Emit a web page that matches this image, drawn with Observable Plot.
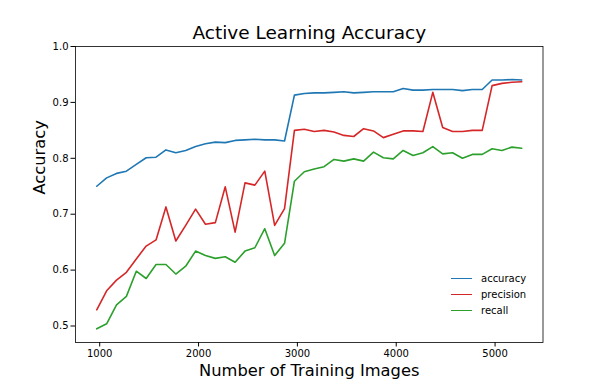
<!DOCTYPE html>
<html>
<head>
<meta charset="utf-8">
<script src="https://cdn.jsdelivr.net/npm/d3@7"></script>
<script src="https://cdn.jsdelivr.net/npm/@observablehq/plot@0.6"></script>
<style>
  html, body { margin: 0; padding: 0; background: #fff; }
  #wrap { position: relative; width: 602px; height: 384px; font-family: "DejaVu Sans", sans-serif; }
  #legend { position: absolute; left: 451px; top: 270.5px; font-size: 10px; color: #000; }
  .row { position: relative; height: 16px; }
  .sw { position: absolute; left: 0; top: 7px; width: 21px; height: 1.6px; }
  .lab { position: absolute; left: 30px; top: 0px; line-height: 15px; white-space: nowrap; }
</style>
</head>
<body>
<div id="wrap"><div id="legend"></div></div>
<script>
const titleText = "Active Learning Accuracy";
const xLabel = "Number of Training Images";
const yLabel = "Accuracy";
const seriesNames = ["accuracy", "precision", "recall"];
const seriesColors = ["#1f77b4", "#d62728", "#2ca02c"];
const xTicks = [1000, 2000, 3000, 4000, 5000];
const yTicks = [0.5, 0.6, 0.7, 0.8, 0.9, 1.0];

const images = [970, 1070, 1170, 1270, 1370, 1470, 1570, 1670, 1770, 1870,
  1970, 2070, 2170, 2270, 2370, 2470, 2570, 2670, 2770, 2870,
  2970, 3070, 3170, 3270, 3370, 3470, 3570, 3670, 3770, 3870,
  3970, 4070, 4170, 4270, 4370, 4470, 4570, 4670, 4770, 4870,
  4970, 5070, 5170, 5270];

const accuracy = [0.750,0.765,0.773,0.777,0.789,0.801,0.802,0.815,0.810,0.814,
  0.821,0.826,0.829,0.828,0.832,0.833,0.834,0.833,0.833,0.831,
  0.913,0.916,0.917,0.917,0.918,0.919,0.917,0.918,0.919,0.919,
  0.919,0.925,0.922,0.922,0.923,0.923,0.923,0.921,0.923,0.923,
  0.940,0.940,0.941,0.940];

const precision = [0.529,0.563,0.582,0.596,0.620,0.643,0.654,0.713,0.652,0.680,
  0.709,0.682,0.685,0.749,0.668,0.756,0.752,0.777,0.680,0.710,
  0.850,0.852,0.848,0.850,0.847,0.841,0.839,0.853,0.849,0.837,
  0.843,0.849,0.849,0.848,0.918,0.855,0.848,0.848,0.850,0.850,
  0.930,0.934,0.936,0.937];

const recall = [0.495,0.504,0.538,0.553,0.598,0.585,0.610,0.610,0.593,0.607,
  0.634,0.626,0.621,0.624,0.614,0.634,0.640,0.674,0.626,0.648,
  0.759,0.776,0.781,0.785,0.798,0.795,0.799,0.795,0.811,0.801,
  0.799,0.814,0.805,0.810,0.821,0.808,0.810,0.800,0.807,0.807,
  0.817,0.814,0.820,0.818];

const seriesValues = [accuracy, precision, recall];
const data = [];
seriesNames.forEach((name, si) => {
  images.forEach((x, i) => data.push({series: name, x, value: seriesValues[si][i]}));
});

const chart = Plot.plot({
  width: 602,
  height: 384,
  marginLeft: 75,
  marginRight: 59.5,
  marginTop: 46,
  marginBottom: 42,
  style: {fontFamily: "DejaVu Sans, sans-serif", fontSize: "10px", background: "#fff", color: "#000", overflow: "visible"},
  x: {domain: [755, 5485]},
  y: {domain: [0.4705, 1.0]},
  color: {domain: seriesNames, range: seriesColors},
  marks: [
    Plot.axisX({ticks: xTicks, tickSize: 4.5, tickPadding: 2.5, tickFormat: d => String(d), label: null, fontSize: 10}),
    Plot.axisY({ticks: yTicks, tickSize: 4.5, tickPadding: 2.5, tickFormat: d => d.toFixed(1), label: null, fontSize: 10}),
    Plot.line(data, {x: "x", y: "value", z: "series", stroke: "series", strokeWidth: 1.6}),
    Plot.frame({stroke: "#000", strokeWidth: 0.8}),
    Plot.text([titleText], {frameAnchor: "top", lineAnchor: "bottom", dy: -8, fontSize: 18.5, fill: "#000"}),
    Plot.text([xLabel], {frameAnchor: "bottom", lineAnchor: "bottom", dy: 33, fontSize: 16.3, fill: "#000"}),
    Plot.text([yLabel], {frameAnchor: "left", rotate: -90, dx: -36, fontSize: 16.3, fill: "#000"})
  ]
});
const wrap = document.getElementById("wrap");
wrap.insertBefore(chart, wrap.firstChild);

const legend = document.getElementById("legend");
seriesNames.forEach((name, i) => {
  const row = document.createElement("div");
  row.className = "row";
  const sw = document.createElement("div");
  sw.className = "sw";
  sw.style.background = seriesColors[i];
  const lab = document.createElement("div");
  lab.className = "lab";
  lab.textContent = name;
  row.appendChild(sw);
  row.appendChild(lab);
  legend.appendChild(row);
});
</script>
</body>
</html>
